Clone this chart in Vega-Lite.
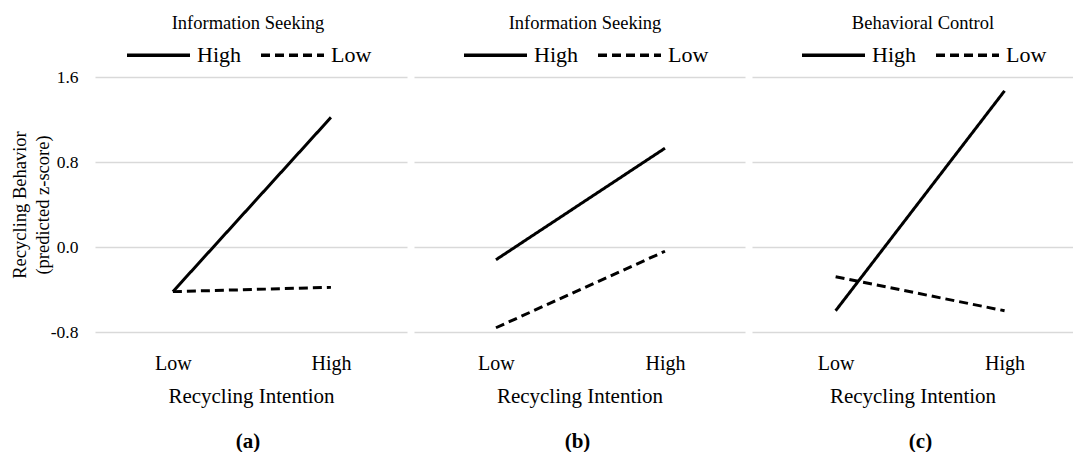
{
  "$schema": "https://vega.github.io/schema/vega-lite/v6.json",
  "padding": {"left": 10, "top": 14, "right": 0, "bottom": 0},
  "background": "white",
  "config": {
    "font": "Liberation Serif",
    "view": {"stroke": null},
    "concat": {"spacing": 7},
    "axis": {"labelColor": "black", "titleColor": "black", "titleFontWeight": "normal", "gridColor": "#d9d9d9", "gridWidth": 1.5},
    "legend": {"labelColor": "black", "titleColor": "black"}
  },
  "datasets": {
    "d": [
      {"panel": "a", "intention": "Low", "moderator": "High", "value": -0.42},
      {"panel": "a", "intention": "High", "moderator": "High", "value": 1.22},
      {"panel": "a", "intention": "Low", "moderator": "Low", "value": -0.42},
      {"panel": "a", "intention": "High", "moderator": "Low", "value": -0.38},
      {"panel": "b", "intention": "Low", "moderator": "High", "value": -0.12},
      {"panel": "b", "intention": "High", "moderator": "High", "value": 0.93},
      {"panel": "b", "intention": "Low", "moderator": "Low", "value": -0.76},
      {"panel": "b", "intention": "High", "moderator": "Low", "value": -0.04},
      {"panel": "c", "intention": "Low", "moderator": "High", "value": -0.60},
      {"panel": "c", "intention": "High", "moderator": "High", "value": 1.47},
      {"panel": "c", "intention": "Low", "moderator": "Low", "value": -0.28},
      {"panel": "c", "intention": "High", "moderator": "Low", "value": -0.60}
    ]
  },
  "resolve": {"scale": {"x": "independent", "y": "independent", "strokeDash": "independent"}, "legend": {"strokeDash": "independent"}},
  "hconcat": [
    {
      "width": 312, "height": 255,
      "data": {"name": "d"},
      "transform": [{"filter": "datum.panel === 'a'"}],
      "title": {"text": "(a)", "orient": "bottom", "fontSize": 21, "fontWeight": "bold", "offset": 25, "dx": -3, "color": "black"},
      "mark": {"type": "line", "color": "black", "strokeWidth": 3},
      "encoding": {
        "x": {"field": "intention", "type": "nominal", "sort": ["Low", "High"], "scale": {"type": "point", "padding": 0.487, "align": 0.506},
          "axis": {"title": "Recycling Intention", "labelAngle": 0, "ticks": false, "domain": false, "grid": false, "labelFontSize": 20, "titleFontSize": 21, "labelPadding": 21, "titlePadding": 12}},
        "y": {"field": "value", "type": "quantitative", "scale": {"domain": [-0.8, 1.6], "nice": false, "zero": false},
          "axis": {"values": [-0.8, 0, 0.8, 1.6], "labelExpr": "datum.value < 0 ? '-' + format(-datum.value, '.1f') : format(datum.value, '.1f')", "title": ["Recycling Behavior", "(predicted z-score)"], "titleFontSize": 18.5, "titleLineHeight": 23, "labelFontSize": 17.5, "labelPadding": 17, "ticks": false, "domain": false, "grid": true, "titlePadding": -2}},
        "strokeDash": {"field": "moderator", "type": "nominal", "scale": {"domain": ["High", "Low"], "range": [[1, 0], [9, 5]]},
          "legend": {"title": "Information Seeking", "orient": "none", "legendX": 30, "legendY": -63, "direction": "horizontal", "titleAnchor": "middle", "titleFontSize": 18.5, "titleFontWeight": "normal", "titlePadding": -11, "labelFontSize": 22, "symbolType": "stroke", "symbolSize": 3969, "symbolStrokeWidth": 3.5, "symbolStrokeColor": "black", "labelOffset": 5, "columnPadding": 13}}
      }
    },
    {
      "width": 331, "height": 255,
      "data": {"name": "d"},
      "transform": [{"filter": "datum.panel === 'b'"}],
      "title": {"text": "(b)", "orient": "bottom", "fontSize": 21, "fontWeight": "bold", "offset": 25, "dx": -2, "color": "black"},
      "mark": {"type": "line", "color": "black", "strokeWidth": 3},
      "encoding": {
        "x": {"field": "intention", "type": "nominal", "sort": ["Low", "High"], "scale": {"type": "point", "padding": 0.479, "align": 0.506},
          "axis": {"title": "Recycling Intention", "labelAngle": 0, "ticks": false, "domain": false, "grid": false, "labelFontSize": 20, "titleFontSize": 21, "labelPadding": 21, "titlePadding": 12}},
        "y": {"field": "value", "type": "quantitative", "scale": {"domain": [-0.8, 1.6], "nice": false, "zero": false},
          "axis": {"values": [-0.8, 0, 0.8, 1.6], "labels": false, "title": null, "ticks": false, "domain": false, "grid": true}},
        "strokeDash": {"field": "moderator", "type": "nominal", "scale": {"domain": ["High", "Low"], "range": [[1, 0], [9, 5]]},
          "legend": {"title": "Information Seeking", "orient": "none", "legendX": 48, "legendY": -63, "direction": "horizontal", "titleAnchor": "middle", "titleFontSize": 18.5, "titleFontWeight": "normal", "titlePadding": -11, "labelFontSize": 22, "symbolType": "stroke", "symbolSize": 3969, "symbolStrokeWidth": 3.5, "symbolStrokeColor": "black", "labelOffset": 5, "columnPadding": 13}}
      }
    },
    {
      "width": 321, "height": 255,
      "data": {"name": "d"},
      "transform": [{"filter": "datum.panel === 'c'"}],
      "title": {"text": "(c)", "orient": "bottom", "fontSize": 21, "fontWeight": "bold", "offset": 25, "dx": 8, "color": "black"},
      "mark": {"type": "line", "color": "black", "strokeWidth": 3},
      "encoding": {
        "x": {"field": "intention", "type": "nominal", "sort": ["Low", "High"], "scale": {"type": "point", "padding": 0.45, "align": 0.55},
          "axis": {"title": "Recycling Intention", "labelAngle": 0, "ticks": false, "domain": false, "grid": false, "labelFontSize": 20, "titleFontSize": 21, "labelPadding": 21, "titlePadding": 12}},
        "y": {"field": "value", "type": "quantitative", "scale": {"domain": [-0.8, 1.6], "nice": false, "zero": false},
          "axis": {"values": [-0.8, 0, 0.8, 1.6], "labels": false, "title": null, "ticks": false, "domain": false, "grid": true}},
        "strokeDash": {"field": "moderator", "type": "nominal", "scale": {"domain": ["High", "Low"], "range": [[1, 0], [9, 5]]},
          "legend": {"title": "Behavioral Control", "orient": "none", "legendX": 48, "legendY": -63, "direction": "horizontal", "titleAnchor": "middle", "titleFontSize": 18.5, "titleFontWeight": "normal", "titlePadding": -11, "labelFontSize": 22, "symbolType": "stroke", "symbolSize": 3969, "symbolStrokeWidth": 3.5, "symbolStrokeColor": "black", "labelOffset": 5, "columnPadding": 13}}
      }
    }
  ]
}
